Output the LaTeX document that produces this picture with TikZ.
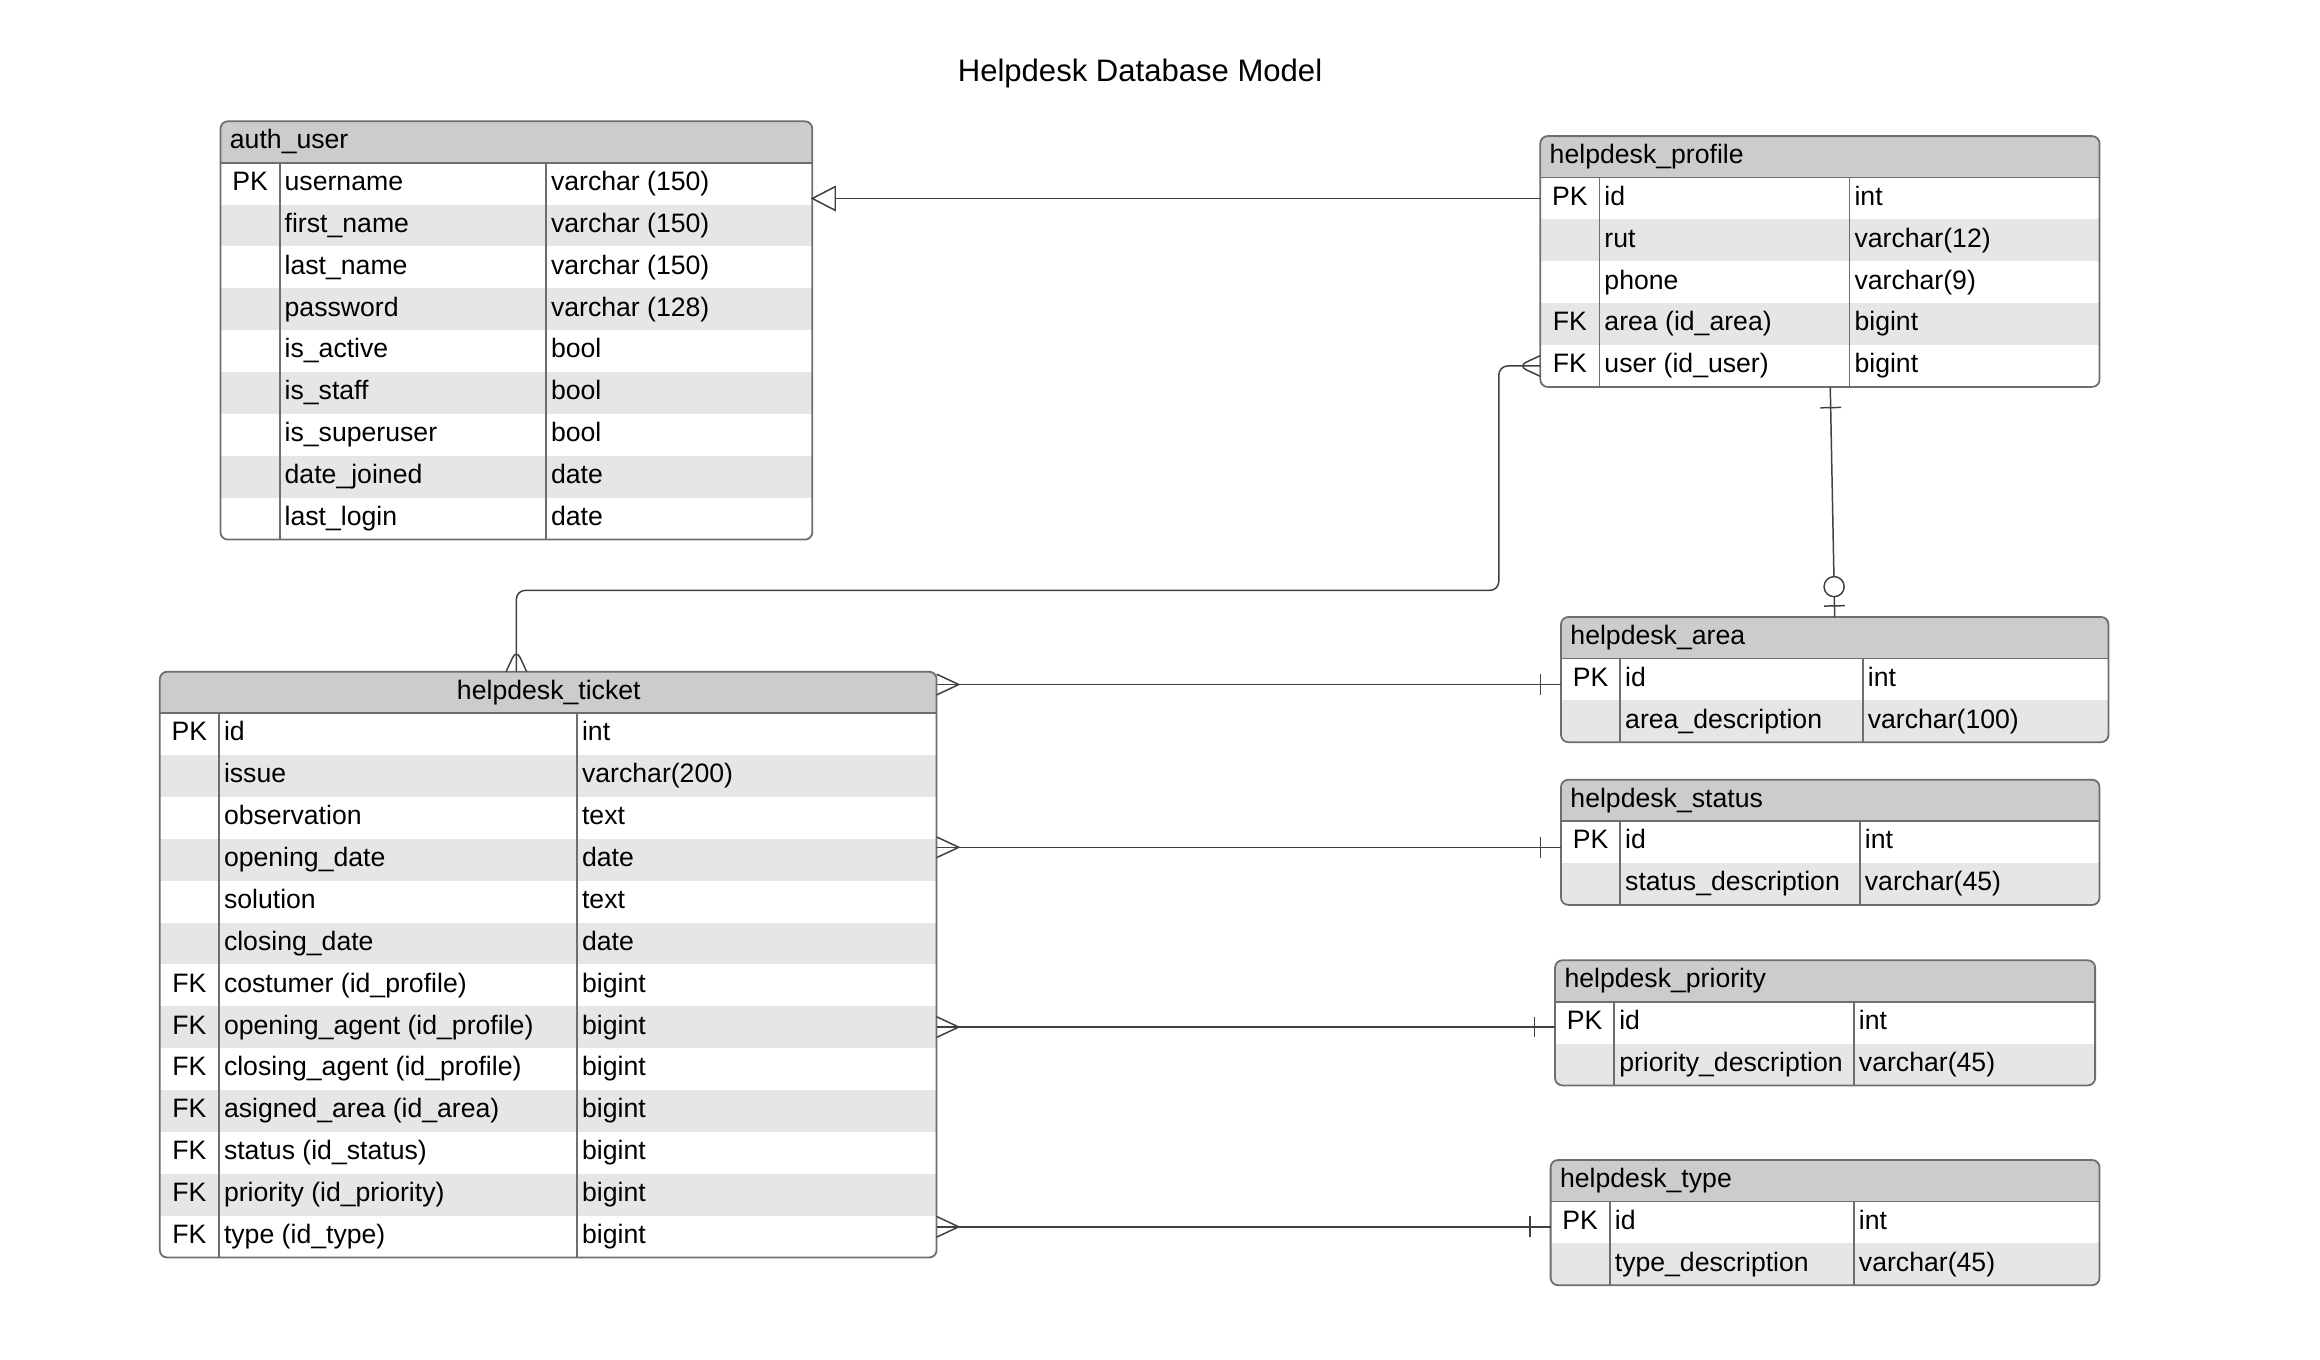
\documentclass[tikz,border=0pt]{standalone}
\usepackage{fontspec}
\setmainfont{Liberation Sans}
\usetikzlibrary{
    calc,
    decorations.markings,
}
\definecolor{headgray}{HTML}{CCCCCC}
\definecolor{rowgray}{HTML}{E6E6E6}
\definecolor{rimgray}{HTML}{6E6E6E}
\definecolor{linegray}{HTML}{404040}

\newcommand{\dbtable}[9][left]{%
  \foreach \row [count=\cnt] in {#9} {\xdef\nrows{\cnt}}%
  \pgfmathsetmacro\ybot{#4+28+\nrows*28.3}%
  \pgfmathsetmacro\tw{(#5-#3)*0.5}%
  \pgfmathsetmacro\txw{\tw-6}%
  \pgfmathsetmacro\th{(\ybot-#4)*0.5}%
  \begin{scope}
    \clip[rounded corners=2.5pt] (#3,#4) rectangle (#5,\ybot);
    \fill[headgray] (#3,#4) rectangle (#5,#4+28);
    \foreach \pk/\fld/\typ [count=\i] in {#9} {
      \pgfmathsetmacro\ya{#4+28+(\i-1)*28.3}
      \ifodd\i\else\fill[rowgray] (#3,\ya) rectangle (#5,\ya+28.3);\fi
      \node[cell] (#2-\i-k) at ({(#3+#6)/2},\ya+14.15) {\pk};
      \node[cell, anchor=west] (#2-\i-n) at (#6+3,\ya+14.15) {\fld};
      \node[cell, anchor=west] (#2-\i-t) at (#7+3,\ya+14.15) {\typ};
    }
  \end{scope}
  \draw[rim] (#3,#4+28) -- (#5,#4+28) (#6,#4+28) -- (#6,\ybot) (#7,#4+28) -- (#7,\ybot);
  \node[cell, text width=\txw pt, align=#1, anchor=west] (#2-title) at (#3+6,#4+14) {#8};
  \node[tbl, minimum width=\tw pt, minimum height=\th pt, anchor=north west] (#2) at (#3,#4) {};
}

\begin{document}
\begin{tikzpicture}[x=0.5pt, y=-0.5pt,
    cell/.style={inner sep=0pt, text height=6.5pt, text depth=1.9pt, font=\fontsize{9}{11}\selectfont},
    rim/.style={draw=rimgray, line width=0.6pt},
    tbl/.style={rim, rounded corners=2.5pt, inner sep=0pt, outer sep=0pt},
    rel/.style={draw=linegray, line width=0.5pt},
    tipat/.style 2 args={postaction={decorate, decoration={markings, mark=at position #1 with {#2}}}},
    many start/.style={tipat={0}{\draw[rel] (0,7) -- (15,0) -- (0,-7);}},
    many end/.style={tipat={1}{\draw[rel] (0,7) -- (-15,0) -- (0,-7);}},
    one start/.style={tipat={0}{\draw[rel] (14,7) -- (14,-7);}},
    one end/.style={tipat={1}{\draw[rel] (-14,7) -- (-14,-7);}},
    zero one end/.style={tipat={1}{\draw[rel] (-7.5,7) -- (-7.5,-7); \draw[rel, fill=white] (-20.5,0) circle (6.8);}},
    open tri end/.style={tipat={1}{\draw[rel, fill=white] (0,0) -- (-15.5,8) -- (-15.5,-8) -- cycle;}}]
    \path[use as bounding box, fill=white] (0,0) rectangle (1568,919);
    \node[font=\fontsize{10.5}{13}\selectfont, anchor=base] (title) at (770.5,55) {Helpdesk Database Model};

    \dbtable{user}{149}{82}{549}{189}{369}{auth\_user}{
        PK/username/varchar (150),
        /first\_name/varchar (150),
        /last\_name/varchar (150),
        /password/varchar (128),
        /is\_active/bool,
        /is\_staff/bool,
        /is\_superuser/bool,
        /date\_joined/date,
        /last\_login/date}
    \dbtable{profile}{1041}{92}{1419}{1081}{1250}{helpdesk\_profile}{
        PK/id/int,
        /rut/varchar(12),
        /phone/varchar(9),
        FK/area (id\_area)/bigint,
        FK/user (id\_user)/bigint}
    \dbtable{area}{1055}{417}{1425}{1095}{1259}{helpdesk\_area}{
        PK/id/int,
        /area\_description/varchar(100)}
    \dbtable{status}{1055}{527}{1419}{1095}{1257}{helpdesk\_status}{
        PK/id/int,
        /status\_description/varchar(45)}
    \dbtable{priority}{1051}{649}{1416}{1091}{1253}{helpdesk\_priority}{
        PK/id/int,
        /priority\_description/varchar(45)}
    \dbtable{type}{1048}{784}{1419}{1088}{1253}{helpdesk\_type}{
        PK/id/int,
        /type\_description/varchar(45)}
    \dbtable[center]{ticket}{108}{454}{633}{148}{390}{helpdesk\_ticket}{
        PK/id/int,
        /issue/varchar(200),
        /observation/text,
        /opening\_date/date,
        /solution/text,
        /closing\_date/date,
        FK/costumer (id\_profile)/bigint,
        FK/opening\_agent (id\_profile)/bigint,
        FK/closing\_agent (id\_profile)/bigint,
        FK/asigned\_area (id\_area)/bigint,
        FK/status (id\_status)/bigint,
        FK/priority (id\_priority)/bigint,
        FK/type (id\_type)/bigint}

    \draw[rel, open tri end] (profile.west |- profile-1-k) -- (user.east |- profile-1-k);
    \draw[rel, rounded corners=3pt, many start, many end] (profile.west |- profile-5-k) -| (1013,399) -| ([xshift=-10.75pt]ticket.north);
    \draw[rel, one start, zero one end] ([xshift=3.5pt]profile.south) -- (area.north);
    \draw[rel, many start, one end] ([yshift=-1.75pt]ticket.east |- area-1-k) -- ([yshift=-1.75pt]area.west |- area-1-k);
    \draw[rel, many start, one end] ([yshift=-1.75pt]ticket.east |- status-1-k) -- ([yshift=-1.75pt]status.west |- status-1-k);
    \draw[rel, many start, one end] ([yshift=-1.5pt]ticket.east |- priority-1-k) -- ([yshift=-1.5pt]priority.west |- priority-1-k);
    \draw[rel, many start, one end] ([yshift=-1.5pt]ticket.east |- type-1-k) -- ([yshift=-1.5pt]type.west |- type-1-k);
\end{tikzpicture}
\end{document}
